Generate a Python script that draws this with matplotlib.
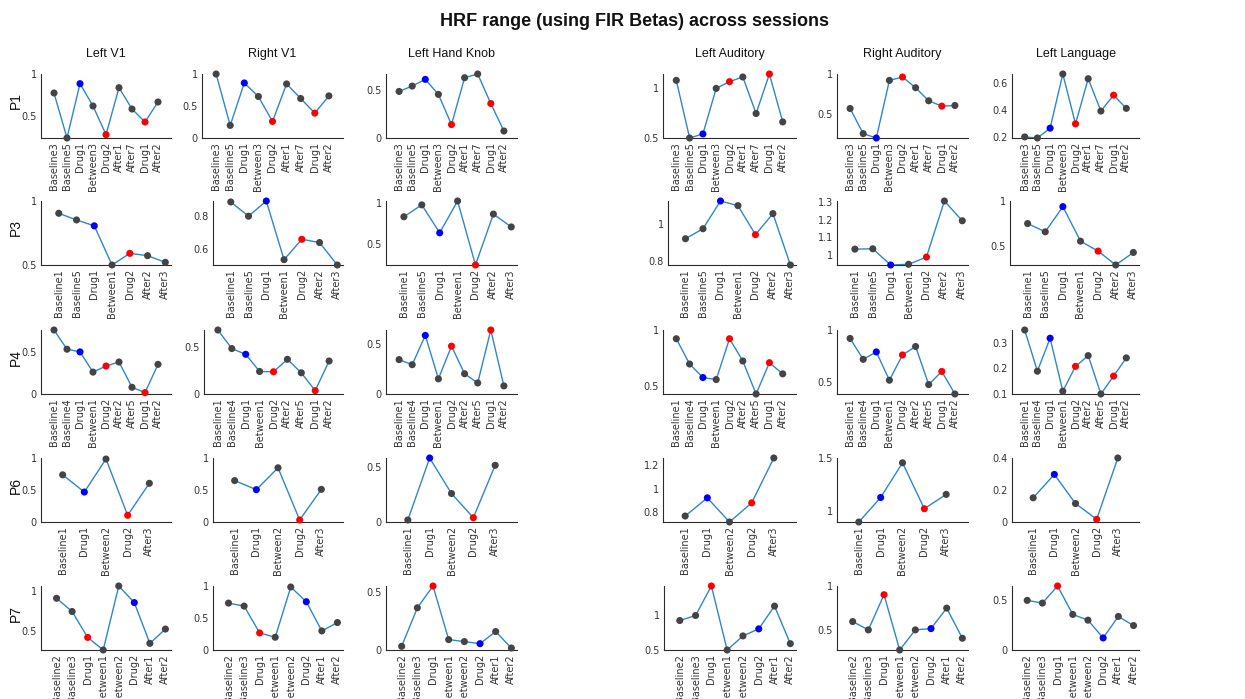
import matplotlib
matplotlib.use("Agg")
import matplotlib.pyplot as plt
from matplotlib.ticker import MultipleLocator, FuncFormatter

# ---------------- data ----------------
participants = ["P1", "P3", "P4", "P6", "P7"]
regions = ["Left V1", "Right V1", "Left Hand Knob", "Left Auditory", "Right Auditory", "Left Language"]

sessions_p1 = ["Baseline3", "Baseline5", "Drug1", "Between3", "Drug2", "After1", "After7", "Drug1", "After2"]
sessions_p3 = ["Baseline1", "Baseline5", "Drug1", "Between1", "Drug2", "After2", "After3"]
sessions_p4 = ["Baseline1", "Baseline4", "Drug1", "Between1", "Drug2", "After2", "After5", "Drug1", "After2"]
sessions_p6 = ["Baseline1", "Drug1", "Between2", "Drug2", "After3"]
sessions_p7 = ["Baseline2", "Baseline3", "Drug1", "Between1", "Between2", "Drug2", "After1", "After2"]

# condition code per session: n = none, b = blue drug, r = red drug
cond_p1 = ["n", "n", "b", "n", "r", "n", "n", "r", "n"]
cond_p3 = ["n", "n", "b", "n", "r", "n", "n"]
cond_p4 = ["n", "n", "b", "n", "r", "n", "n", "r", "n"]
cond_p6 = ["n", "b", "n", "r", "n"]
cond_p7 = ["n", "n", "r", "n", "n", "b", "n", "n"]

values_p1 = [
    [0.774, 0.238, 0.885, 0.619, 0.278, 0.837, 0.583, 0.429, 0.667],
    [1.000, 0.197, 0.860, 0.648, 0.259, 0.845, 0.617, 0.389, 0.658],
    [0.486, 0.542, 0.612, 0.455, 0.140, 0.629, 0.668, 0.360, 0.073],
    [1.081, 0.500, 0.541, 1.000, 1.068, 1.115, 0.747, 1.145, 0.662],
    [0.567, 0.252, 0.197, 0.920, 0.962, 0.828, 0.664, 0.597, 0.605],
    [0.203, 0.195, 0.268, 0.670, 0.300, 0.635, 0.395, 0.513, 0.415],
]
values_p3 = [
    [0.904, 0.852, 0.806, 0.500, 0.591, 0.573, 0.521],
    [0.888, 0.800, 0.894, 0.531, 0.657, 0.637, 0.498],
    [0.833, 0.980, 0.634, 1.028, 0.236, 0.866, 0.707],
    [0.921, 0.975, 1.125, 1.100, 0.943, 1.057, 0.779],
    [1.032, 1.034, 0.942, 0.946, 0.987, 1.305, 1.193],
    [0.752, 0.661, 0.938, 0.558, 0.449, 0.296, 0.434],
]
values_p4 = [
    [0.760, 0.532, 0.500, 0.260, 0.332, 0.380, 0.080, 0.016, 0.352],
    [0.679, 0.482, 0.421, 0.239, 0.236, 0.368, 0.225, 0.036, 0.350],
    [0.345, 0.294, 0.588, 0.152, 0.480, 0.203, 0.111, 0.642, 0.081],
    [0.922, 0.696, 0.575, 0.557, 0.922, 0.723, 0.428, 0.708, 0.608],
    [0.919, 0.719, 0.790, 0.519, 0.761, 0.842, 0.477, 0.603, 0.387],
    [0.350, 0.189, 0.318, 0.111, 0.208, 0.250, 0.100, 0.170, 0.241],
]
values_p6 = [
    [0.737, 0.468, 0.984, 0.105, 0.605],
    [0.647, 0.505, 0.847, 0.032, 0.510],
    [0.018, 0.578, 0.257, 0.039, 0.512],
    [0.770, 0.922, 0.720, 0.880, 1.255],
    [0.897, 1.128, 1.455, 1.022, 1.157],
    [0.152, 0.299, 0.116, 0.017, 0.402],
]
values_p7 = [
    [0.905, 0.740, 0.417, 0.260, 1.058, 0.851, 0.343, 0.521],
    [0.733, 0.686, 0.267, 0.199, 0.984, 0.754, 0.298, 0.429],
    [0.032, 0.366, 0.555, 0.090, 0.073, 0.055, 0.160, 0.017],
    [0.927, 1.000, 1.427, 0.500, 0.704, 0.806, 1.136, 0.592],
    [0.595, 0.500, 0.901, 0.271, 0.500, 0.515, 0.748, 0.405],
    [0.497, 0.470, 0.641, 0.356, 0.299, 0.121, 0.336, 0.245],
]

all_sessions = [sessions_p1, sessions_p3, sessions_p4, sessions_p6, sessions_p7]
all_conds = [cond_p1, cond_p3, cond_p4, cond_p6, cond_p7]
all_values = [values_p1, values_p3, values_p4, values_p6, values_p7]

# ---------------- axis settings ----------------
ylims = [
    [(None, 1.0), (0, None), (0, None), (None, None), (None, 1.0), (None, None)],
    [(None, 1.0), (None, None), (None, None), (None, None), (None, None), (None, 1.0)],
    [(0, None), (0, None), (0, None), (None, 1.0), (None, 1.0), (None, None)],
    [(0, 1.0), (0, 1.0), (0, None), (None, None), (None, 1.5), (0, None)],
    [(None, None), (0, 1.0), (0, None), (None, None), (None, 1.0), (0, None)],
]
ytick_steps = [
    [0.5, 0.5, 0.5, 0.5, 0.5, 0.2],
    [0.5, 0.2, 0.5, 0.2, 0.1, 0.5],
    [0.5, 0.5, 0.5, 0.5, 0.5, 0.1],
    [0.5, 0.5, 0.5, 0.2, 0.5, 0.2],
    [0.5, 0.5, 0.5, 0.5, 0.5, 0.5],
]
xlim_right = [10.0, 7.32, 10.0, 6.0, 8.36]

# ---------------- layout (pixels) ----------------
W, H = 1245, 699
lefts = [
    [41, 202, 386, 663, 837, 1012],
    [41, 213, 386, 668, 837, 1010],
    [41, 204, 386, 663, 837, 1012],
    [41, 213, 386, 663, 837, 1012],
    [41, 213, 386, 664, 837, 1012],
]
rights = [171, 343, 517, 796, 968, 1139]
tops = [74, 201, 330, 458, 586]
ax_h = 64

line_color = "#2f86cc"
cond_colors = {"n": "#444444", "b": "#0000ff", "r": "#ff0000"}
text_color = "#333333"

fig = plt.figure(figsize=(W / 100, H / 100), dpi=100)
fig.patch.set_facecolor("white")

fmt = FuncFormatter(lambda v, p: ("%g" % round(v, 3)))

for r, pid in enumerate(participants):
    sess = all_sessions[r]
    conds = all_conds[r]
    x = list(range(1, len(sess) + 1))
    for c, reg in enumerate(regions):
        vals = all_values[r][c]
        l = lefts[r][c]
        rt = rights[c]
        top = tops[r]
        ax = fig.add_axes([l / W, 1 - (top + ax_h) / H, (rt - l) / W, ax_h / H])
        ln, = ax.plot(x, vals, color=line_color, lw=1.0, zorder=2)
        ln.set_clip_on(False)
        sc = ax.scatter(x, vals, s=26, c=[cond_colors[k] for k in conds],
                        zorder=3, linewidths=0)
        sc.set_clip_on(False)
        lo, hi = ylims[r][c]
        if lo is None:
            lo = min(vals)
        if hi is None:
            hi = max(vals)
        ax.set_ylim(lo, hi)
        ax.set_xlim(0, xlim_right[r])
        ax.yaxis.set_major_locator(MultipleLocator(ytick_steps[r][c]))
        ax.yaxis.set_major_formatter(fmt)
        ax.set_xticks(x)
        ax.set_xticklabels(sess, rotation=90, fontsize=7, family="DejaVu Sans",
                           color=text_color)
        for t in ax.get_yticklabels():
            t.set_fontsize(7)
            t.set_family("DejaVu Sans")
            t.set_color(text_color)
        ax.tick_params(axis="both", length=0, pad=3)
        for s in ("top", "right"):
            ax.spines[s].set_visible(False)
        for s in ("left", "bottom"):
            ax.spines[s].set_color("#2b2b2b")
            ax.spines[s].set_linewidth(0.8)
        if r == 0:
            fig.text((l + rt) / 2 / W, 1 - 54 / H, reg, ha="center", va="center",
                     fontsize=9, family="Liberation Sans", color="#111111")
        if c == 0:
            fig.text(16 / W, 1 - (top + ax_h / 2 - 5) / H, pid, ha="center",
                     va="center", rotation=90, fontsize=10,
                     family="Liberation Sans", color="#111111")

fig.text(634 / W, 1 - 21 / H, "HRF range (using FIR Betas) across sessions",
         ha="center", va="center", fontsize=13, fontweight="bold",
         family="Liberation Sans", color="#111111")

fig.savefig("out.png", dpi=100, facecolor="white")
